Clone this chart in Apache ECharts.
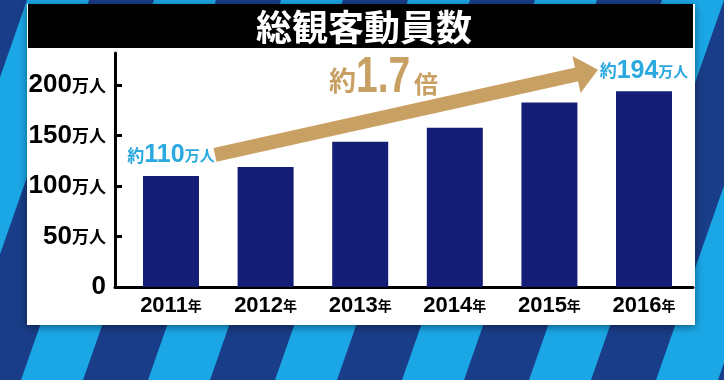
<!DOCTYPE html>
<html>
<head>
<meta charset="utf-8">
<script src="https://cdn.jsdelivr.net/npm/echarts@6/dist/echarts.min.js"></script>
<style>html,body{margin:0;padding:0;background:#1a3d8a}#c{width:724px;height:380px}</style>
</head>
<body>
<div id="c"></div>
<script>
// ---- data ----
const years = [2011, 2012, 2013, 2014, 2015, 2016];
const visitors = [110, 119, 144, 158, 183, 194];     // 万人
const yTicks = [0, 50, 100, 150, 200];
const yearSuffix = '年';
const unit = '万人';
const titleText = '総観客動員数';
const growthPrefix = '約', growthValue = '1.7', growthSuffix = '倍';
const annotated = [2011, 2016];
const arrowStart = [2011.465, 131];
const arrowEnd = [2015.40, 213];

const chart = echarts.init(document.getElementById('c'), null, {renderer: 'canvas'});

const SANS = '"Liberation Sans","Noto Sans",sans-serif';
const JP = '"Noto Sans CJK JP","Noto Sans CJK SC",sans-serif';
const TAN = '#c9a063';
const CYAN = '#2aa8e0';

// decorative background stripes
const bg = [{type: 'rect', shape: {x: 0, y: 0, width: 724, height: 380}, style: {fill: '#1a3d89'}, z: -100, silent: true}];
for (let k = -3; k <= 6; k++) {
  const x0 = 21 + k * 127;
  bg.push({type: 'polygon', z: -99, silent: true,
    shape: {points: [[x0, 380], [x0 + 62, 380], [x0 + 62 + 133, 0], [x0 + 133, 0]]},
    style: {fill: '#1ba7e6'}});
}
bg.push({type: 'rect', z: -50, silent: true, shape: {x: 27, y: 4, width: 668, height: 321},
  style: {fill: '#ffffff', shadowBlur: 8, shadowColor: 'rgba(0,0,0,0.45)', shadowOffsetY: 2}});
bg.push({type: 'rect', z: -49, silent: true, shape: {x: 28, y: 4, width: 665, height: 44}, style: {fill: '#000000'}});
bg.push({type: 'text', z: 100, silent: true, x: 364, y: 27,
  style: {text: titleText, fill: '#ffffff', font: 'bold 36px ' + JP, textAlign: 'center', textVerticalAlign: 'middle'}});
// "約1.7倍" annotation
bg.push({type: 'text', z: 100, silent: true, x: 329, y: 81,
  style: {text: growthPrefix, fill: TAN, font: 'bold 27px ' + JP, textAlign: 'left', textVerticalAlign: 'middle'}});
bg.push({type: 'text', z: 100, silent: true, x: 356, y: 78, scaleX: 0.78,
  style: {text: growthValue, fill: TAN, font: 'bold 50px ' + SANS, textAlign: 'left', textVerticalAlign: 'middle'}});
bg.push({type: 'text', z: 100, silent: true, x: 414, y: 84,
  style: {text: growthSuffix, fill: TAN, font: 'bold 24px ' + JP, textAlign: 'left', textVerticalAlign: 'middle'}});

const option = {
  animation: false,
  backgroundColor: 'transparent',
  graphic: bg,
  grid: {left: 115, right: 31, top: 53, bottom: 93, containLabel: false},
  xAxis: {
    type: 'value', min: 2010.408, max: 2016.518,
    splitLine: {show: false},
    axisTick: {show: false},
    axisLine: {show: true, lineStyle: {color: '#000', width: 3}},
    axisLabel: {
      customValues: years, margin: 8, color: '#000',
      formatter: v => '{d|' + v + '}{u|' + yearSuffix + '}',
      rich: {
        d: {fontFamily: SANS, fontWeight: 'bold', fontSize: 22, color: '#000'},
        u: {fontFamily: JP, fontWeight: 'bold', fontSize: 14, color: '#000'}
      }
    }
  },
  yAxis: {
    type: 'value', min: 0, max: 232,
    splitLine: {show: false},
    axisLine: {show: true, lineStyle: {color: '#000', width: 3}},
    axisTick: {show: true, inside: true, length: 7, customValues: yTicks, lineStyle: {color: '#000', width: 3}},
    axisLabel: {
      customValues: yTicks, margin: 9, color: '#000',
      formatter: v => v === 0 ? '{n|0}' : '{n|' + v + '}{u|' + unit + '}',
      rich: {
        n: {fontFamily: SANS, fontWeight: 'bold', fontSize: 26, color: '#000'},
        u: {fontFamily: JP, fontWeight: 'bold', fontSize: 17, color: '#000'}
      }
    }
  },
  series: [{
    type: 'bar',
    barWidth: 56,
    itemStyle: {color: '#141e76'},
    data: years.map((y, i) => ({
      value: [y, visitors[i]],
      label: {show: annotated.indexOf(y) >= 0}
    })),
    label: {
      position: 'top', distance: 8,
      formatter: p => '{a|約}{n|' + p.value[1] + '}{u|' + unit + '}',
      rich: {
        a: {fontFamily: JP, fontWeight: 'bold', fontSize: 17, color: CYAN},
        n: {fontFamily: SANS, fontWeight: 'bold', fontSize: 25, color: CYAN},
        u: {fontFamily: JP, fontWeight: 'bold', fontSize: 15, color: CYAN}
      }
    },
    markLine: {
      silent: true,
      symbol: ['none', 'triangle'],
      symbolSize: [38, 22],
      label: {show: false},
      lineStyle: {color: TAN, width: 14, type: 'solid'},
      emphasis: {disabled: true},
      data: [[{coord: arrowStart}, {coord: arrowEnd}]]
    }
  }]
};
chart.setOption(option);
</script>
</body>
</html>
